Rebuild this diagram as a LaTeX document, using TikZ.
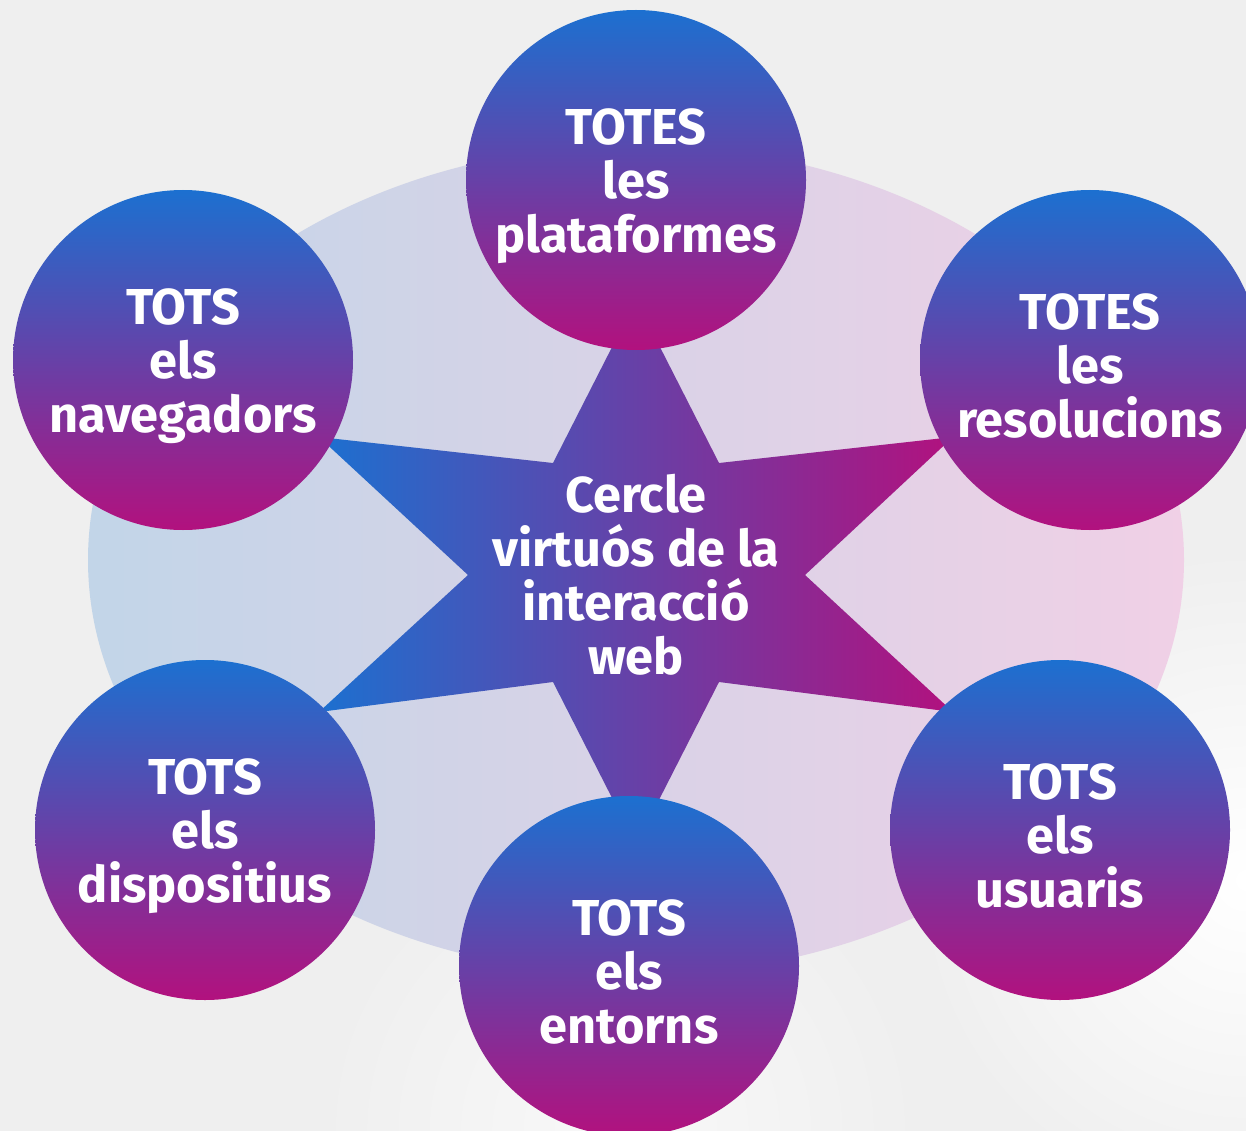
\documentclass[tikz,border=0pt]{standalone}
\usepackage{fontspec}
\setmainfont{Fira Sans}
\usetikzlibrary{shapes.geometric}
\definecolor{bggray}{HTML}{EFEFEF}
\definecolor{ellL}{HTML}{C2D5E8}
\definecolor{ellM}{HTML}{D2D1E4}
\definecolor{ellR}{HTML}{F0D0E6}
\definecolor{cblue}{HTML}{1C70D0}
\definecolor{cpurp}{HTML}{6840A6}
\definecolor{cmag}{HTML}{B2117E}
\tikzset{
  bubble/.style={circle, minimum size=340pt, inner sep=0pt,
    top color=cblue, middle color=cpurp, bottom color=cmag},
  btext/.style={text=white, align=center, inner sep=0pt,
    font=\bfseries\fontsize{50.5}{54}\selectfont},
  centertext/.style={text=white, align=center, inner sep=0pt,
    font=\bfseries\fontsize{50.5}{54}\selectfont}
}
\begin{document}
\begin{tikzpicture}[x=1pt,y=-1pt]
\useasboundingbox (0,0) rectangle (1246,1131);
\clip (0,0) rectangle (1246,1131);
% background
\fill[bggray] (0,0) rectangle (1246,1131);
\shade[inner color=white, outer color=bggray] (1246,880) circle (330);
\shade[inner color=white!60!bggray, outer color=bggray] (620,1131) circle (300);
% big ellipse
\shade[left color=ellL, middle color=ellM, right color=ellR]
  (636,560) ellipse [x radius=548, y radius=415];
% star
\shade[left color=cblue, middle color=cpurp, right color=cmag]
  (636,300) -- (719,463) -- (953,437) -- (805,575) -- (953,712) -- (719,682)
  -- (636,845) -- (553,682) -- (319,712) -- (468,575) -- (319,437) -- (553,463) -- cycle;
\node[centertext] (center) at (636,575) {Cercle\\virtuós de la\\interacció\\web};
% bubbles
\node[bubble] (plat) at (636,180) {};
\node[bubble] (nav) at (183,360) {};
\node[bubble] (res) at (1090,360) {};
\node[bubble] (disp) at (205,830) {};
\node[bubble] (ent) at (629,966) {};
\node[bubble] (usu) at (1060,830) {};
\node[btext] (platt) at ([yshift=-6pt]plat.center) {TOTES\\les\\plataformes};
\node[btext] (navt) at ([yshift=-6pt]nav.center) {TOTS\\els\\navegadors};
\node[btext] (rest) at ([yshift=-6pt]res.center) {TOTES\\les\\resolucions};
\node[btext] (dispt) at ([yshift=-6pt]disp.center) {TOTS\\els\\dispositius};
\node[btext] (entt) at ([yshift=-6pt]ent.center) {TOTS\\els\\entorns};
\node[btext] (usut) at ([yshift=-6pt]usu.center) {TOTS\\els\\usuaris};
\end{tikzpicture}
\end{document}
